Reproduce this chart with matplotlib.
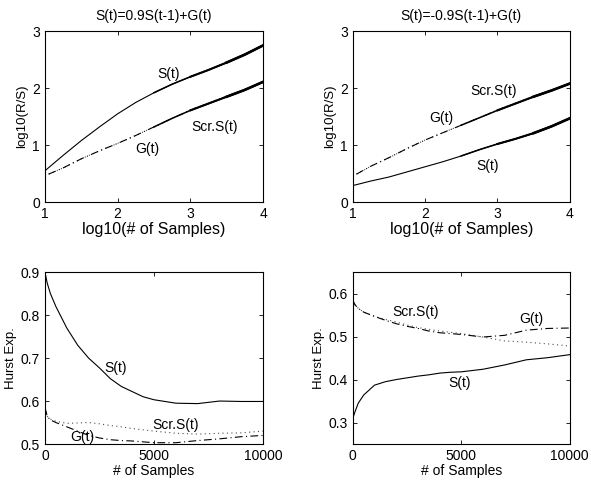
import matplotlib
matplotlib.use('Agg')

import matplotlib.pyplot as plt
import numpy as np

plt.rcParams['font.family'] = ['Liberation Sans', 'DejaVu Sans']
plt.rcParams['font.size'] = 10

# --- top left: S(t)=0.9S(t-1)+G(t), log10(R/S) vs log10(samples)
tl_x = np.array([1.0, 1.25, 1.5, 1.75, 2.0, 2.25, 2.5, 2.75, 3.0, 3.25, 3.5, 3.75, 4.0])
tl_S = np.array([0.55, 0.82, 1.08, 1.32, 1.55, 1.75, 1.92, 2.07, 2.20, 2.32, 2.45, 2.59, 2.75])
tl_Gx = np.array([1.05, 1.25, 1.5, 1.75, 2.0, 2.25, 2.5, 2.75, 3.0, 3.25, 3.5, 3.75, 4.0])
tl_G = np.array([0.49, 0.60, 0.76, 0.90, 1.03, 1.17, 1.32, 1.47, 1.61, 1.73, 1.85, 1.97, 2.11])
tl_Scr = np.array([0.49, 0.60, 0.76, 0.90, 1.03, 1.17, 1.32, 1.47, 1.62, 1.74, 1.86, 1.98, 2.12])

# --- top right: S(t)=-0.9S(t-1)+G(t)
tr_x = np.array([1.0, 1.25, 1.5, 1.75, 2.0, 2.25, 2.5, 2.75, 3.0, 3.25, 3.5, 3.75, 4.0])
tr_S = np.array([0.29, 0.37, 0.44, 0.53, 0.62, 0.71, 0.81, 0.92, 1.02, 1.11, 1.21, 1.33, 1.47])
tr_Gx = np.array([1.05, 1.25, 1.5, 1.75, 2.0, 2.25, 2.5, 2.75, 3.0, 3.25, 3.5, 3.75, 4.0])
tr_G = np.array([0.49, 0.63, 0.78, 0.94, 1.09, 1.22, 1.35, 1.48, 1.61, 1.73, 1.85, 1.96, 2.08])
tr_Scr = np.array([0.49, 0.63, 0.78, 0.94, 1.09, 1.22, 1.35, 1.48, 1.62, 1.74, 1.86, 1.97, 2.07])

# --- bottom left: Hurst exponent vs samples
bl_n = np.array([0, 100, 250, 500, 1000, 1500, 2000, 2500, 3000, 3500, 4000, 4500, 5000,
                 6000, 7000, 8000, 9000, 10000])
bl_S = np.array([0.90, 0.875, 0.85, 0.82, 0.77, 0.73, 0.70, 0.677, 0.652, 0.634, 0.622, 0.61,
                 0.603, 0.595, 0.594, 0.600, 0.599, 0.599])
bl_G = np.array([0.585, 0.565, 0.556, 0.550, 0.540, 0.530, 0.520, 0.514, 0.510, 0.508, 0.507,
                 0.505, 0.503, 0.503, 0.508, 0.512, 0.517, 0.520])
bl_Scr = np.array([0.585, 0.565, 0.558, 0.553, 0.548, 0.549, 0.550, 0.547, 0.543, 0.540, 0.536,
                   0.533, 0.530, 0.525, 0.523, 0.525, 0.526, 0.530])

# --- bottom right
br_n = np.array([0, 100, 250, 500, 1000, 1500, 2000, 2500, 3000, 3500, 4000, 4500, 5000,
                 6000, 7000, 8000, 9000, 10000])
br_S = np.array([0.31, 0.325, 0.345, 0.364, 0.387, 0.395, 0.400, 0.404, 0.408, 0.411, 0.415,
                 0.417, 0.418, 0.424, 0.434, 0.446, 0.451, 0.458])
br_G = np.array([0.585, 0.574, 0.566, 0.557, 0.547, 0.538, 0.530, 0.524, 0.519, 0.513, 0.509,
                 0.507, 0.505, 0.499, 0.503, 0.515, 0.519, 0.520])
br_Scr = np.array([0.585, 0.574, 0.566, 0.557, 0.547, 0.540, 0.534, 0.527, 0.521, 0.517, 0.513,
                   0.510, 0.507, 0.499, 0.490, 0.487, 0.483, 0.478])

titles = ['S(t)=0.9S(t-1)+G(t)', 'S(t)=-0.9S(t-1)+G(t)']

fig = plt.figure(figsize=(5.91, 4.80), dpi=100)
pos = [[0.0761, 0.579, 0.369, 0.356], [0.597, 0.579, 0.367, 0.356],
       [0.0761, 0.075, 0.369, 0.358], [0.597, 0.075, 0.367, 0.358]]
axs = [fig.add_axes(p) for p in pos]

dashdot = (0, (7, 3, 1, 3))
dotted = (0, (1, 3))
lw = 0.8


def style(ax):
    ax.tick_params(direction='in', top=True, right=True, length=3, width=0.6, labelsize=10)
    for s in ax.spines.values():
        s.set_linewidth(0.8)


def log_panel(ax, x, s, gx, g, scr, title):
    ax.plot(x, s, 'k-', lw=lw)
    ax.plot(gx, scr, color='0.3', ls=dotted, lw=lw)
    ax.plot(gx, g, color='k', ls=dashdot, lw=lw)
    # noisy tails drawn gradually thicker
    for start, w in [(2.5, 1.1), (3.0, 1.5), (3.5, 1.9)]:
        ax.plot(x[x >= start], s[x >= start], 'k-', lw=w)
        ax.plot(gx[gx >= start], g[gx >= start], 'k-', lw=w)
    ax.set_xlim(1, 4)
    ax.set_ylim(0, 3)
    ax.set_xticks([1, 2, 3, 4])
    ax.set_yticks([0, 1, 2, 3])
    ax.set_xlabel('log10(# of Samples)', labelpad=1, fontsize=11.5)
    ax.set_ylabel('log10(R/S)', labelpad=3, fontsize=9.5)
    ax.set_title(title, fontsize=10, pad=8)
    style(ax)


log_panel(axs[0], tl_x, tl_S, tl_Gx, tl_G, tl_Scr, titles[0])
axs[0].text(2.70, 2.25, 'S(t)', ha='center', va='center')
axs[0].text(3.34, 1.32, 'Scr.S(t)', ha='center', va='center')
axs[0].text(2.41, 0.94, 'G(t)', ha='center', va='center')

log_panel(axs[1], tr_x, tr_S, tr_Gx, tr_G, tr_Scr, titles[1])
axs[1].text(2.94, 1.95, 'Scr.S(t)', ha='center', va='center')
axs[1].text(2.23, 1.48, 'G(t)', ha='center', va='center')
axs[1].text(2.87, 0.63, 'S(t)', ha='center', va='center')

# bottom left
ax = axs[2]
ax.plot(bl_n, bl_S, 'k-', lw=lw)
ax.plot(bl_n, bl_Scr, color='0.3', ls=dotted, lw=lw)
ax.plot(bl_n, bl_G, color='k', ls=dashdot, lw=lw)
ax.set_xlim(0, 10000)
ax.set_ylim(0.5, 0.9)
ax.set_xticks([0, 5000, 10000])
ax.set_yticks([0.5, 0.6, 0.7, 0.8, 0.9])
ax.set_xlabel('# of Samples', labelpad=1)
ax.set_ylabel('Hurst Exp.', labelpad=3, fontsize=9.5)
ax.text(3250, 0.678, 'S(t)', ha='center', va='center')
ax.text(5970, 0.544, 'Scr.S(t)', ha='center', va='center')
ax.text(1730, 0.517, 'G(t)', ha='center', va='center')
style(ax)

# bottom right
ax = axs[3]
ax.plot(br_n, br_S, 'k-', lw=lw)
ax.plot(br_n, br_Scr, color='0.3', ls=dotted, lw=lw)
ax.plot(br_n, br_G, color='k', ls=dashdot, lw=lw)
ax.set_xlim(0, 10000)
ax.set_ylim(0.25, 0.65)
ax.set_xticks([0, 5000, 10000])
ax.set_yticks([0.3, 0.4, 0.5, 0.6])
ax.set_xlabel('# of Samples', labelpad=1)
ax.set_ylabel('Hurst Exp.', labelpad=3, fontsize=9.5)
ax.text(2900, 0.557, 'Scr.S(t)', ha='center', va='center')
ax.text(8240, 0.542, 'G(t)', ha='center', va='center')
ax.text(4930, 0.391, 'S(t)', ha='center', va='center')
style(ax)

fig.savefig('out.png', dpi=100)
